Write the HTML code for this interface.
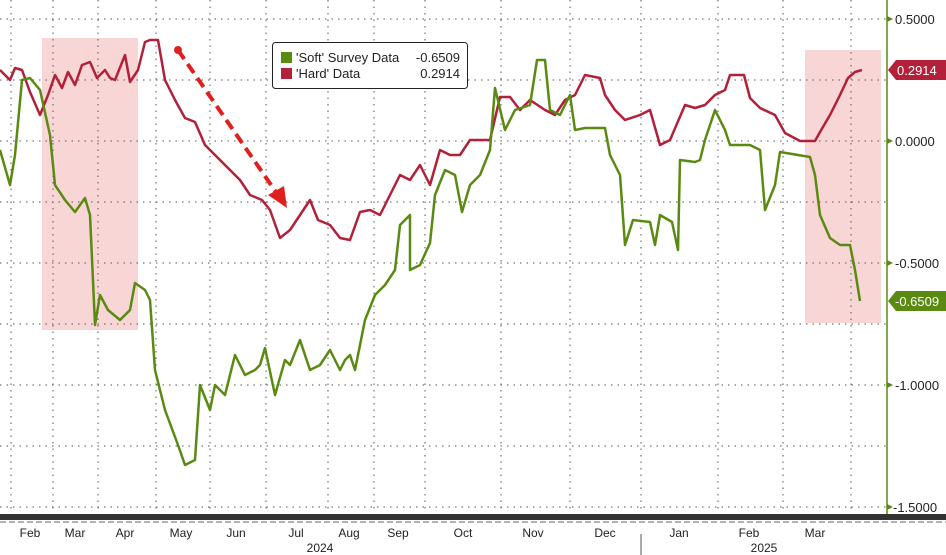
<!DOCTYPE html>
<html><head><meta charset="utf-8"><style>
html,body{margin:0;padding:0;background:#fff;}
svg{display:block;font-family:"Liberation Sans",sans-serif;}
</style></head><body>
<svg width="946" height="555" viewBox="0 0 946 555" xmlns="http://www.w3.org/2000/svg">
<rect width="946" height="555" fill="#fff"/>
<rect x="42" y="38" width="96" height="292" fill="#f8cfcf" opacity="0.85"/>
<rect x="805" y="50" width="76" height="273" fill="#f8cfcf" opacity="0.85"/>
<g stroke="#555" stroke-width="1" stroke-dasharray="1.5,5">
<line x1="0" y1="19" x2="887" y2="19"/><line x1="0" y1="80" x2="887" y2="80"/>
<line x1="0" y1="141" x2="887" y2="141"/><line x1="0" y1="202" x2="887" y2="202"/>
<line x1="0" y1="263" x2="887" y2="263"/><line x1="0" y1="324" x2="887" y2="324"/>
<line x1="0" y1="385" x2="887" y2="385"/><line x1="0" y1="446" x2="887" y2="446"/>
<line x1="0" y1="507" x2="887" y2="507"/>
<line x1="11" y1="0" x2="11" y2="512"/><line x1="53" y1="0" x2="53" y2="512"/>
<line x1="98" y1="0" x2="98" y2="512"/><line x1="156" y1="0" x2="156" y2="512"/>
<line x1="210" y1="0" x2="210" y2="512"/><line x1="266" y1="0" x2="266" y2="512"/>
<line x1="328" y1="0" x2="328" y2="512"/><line x1="374" y1="0" x2="374" y2="512"/>
<line x1="425" y1="0" x2="425" y2="512"/><line x1="501" y1="0" x2="501" y2="512"/>
<line x1="570" y1="0" x2="570" y2="512"/><line x1="641" y1="0" x2="641" y2="512"/>
<line x1="718" y1="0" x2="718" y2="512"/><line x1="783" y1="0" x2="783" y2="512"/>
<line x1="851" y1="0" x2="851" y2="512"/>
</g>
<polyline fill="none" stroke="#b2203a" stroke-width="2.5" stroke-linejoin="round" points="0,70 10,80 15,68 22,70 30,92 40,115 48,95 55,75 62,88 68,72 75,85 82,65 90,62 97,78 105,70 110,78 115,80 125,55 130,82 138,70 145,42 150,40 158,40 165,80 175,100 185,118 195,122 205,145 215,155 230,170 240,180 250,195 262,200 270,210 280,238 290,230 300,215 310,200 318,220 330,225 340,238 350,240 360,212 370,210 380,215 390,195 400,175 410,180 420,165 430,185 440,150 450,155 460,155 470,140 480,140 490,140 500,97 510,97 520,110 530,100 545,110 555,115 565,100 575,95 585,75 600,78 605,95 615,110 625,120 640,115 650,110 660,145 670,140 685,105 695,108 705,105 715,95 725,90 730,75 744,75 750,98 760,108 775,115 785,133 800,141 815,141 820,132 830,115 840,95 848,78 855,72 862,70"/>
<polyline fill="none" stroke="#5a8a12" stroke-width="2.5" stroke-linejoin="round" points="0,150 10,185 15,155 22,80 30,78 40,90 50,135 55,185 65,200 75,212 85,198 90,215 95,325 100,295 108,310 120,320 130,310 135,283 145,290 150,300 155,370 165,410 178,445 185,465 195,460 200,385 210,410 215,385 225,395 235,355 245,375 255,370 260,365 265,348 275,395 285,360 290,365 300,340 310,370 320,365 330,350 340,370 345,360 350,355 355,370 365,320 375,295 385,285 395,270 400,225 410,215 410,270 420,265 430,243 435,195 445,170 455,175 462,212 470,185 480,175 490,150 495,88 505,130 515,110 530,105 537,60 545,60 550,110 560,115 570,95 575,130 585,128 605,128 610,155 620,175 625,245 633,220 650,222 655,245 660,215 672,222 678,250 680,160 695,162 700,160 705,140 715,110 725,130 730,145 750,145 760,150 765,210 775,185 780,152 810,157 815,175 820,215 830,238 840,245 850,245 855,270 860,301"/>
<circle cx="178" cy="50" r="4" fill="#e0201e"/>
<line x1="178" y1="50" x2="278" y2="195" stroke="#e0201e" stroke-width="4" stroke-dasharray="11,6"/>
<polygon points="287,208 268,195 284,186" fill="#e0201e"/>
<rect x="272.5" y="42.5" width="195" height="46" rx="3" fill="#fff" stroke="#222"/>
<rect x="281" y="52" width="11" height="11" fill="#5a8a12"/>
<rect x="281" y="68" width="11" height="11" fill="#b2203a"/>
<g font-size="13" fill="#222">
<text x="296" y="62">'Soft' Survey Data</text><text x="460" y="62" text-anchor="end">-0.6509</text>
<text x="296" y="78">'Hard' Data</text><text x="460" y="78" text-anchor="end">0.2914</text>
</g>
<line x1="887" y1="0" x2="887" y2="515" stroke="#5a8a12" stroke-width="1.5"/>
<g fill="#5a8a12"><polygon points="887,16 893,19 887,22"/><polygon points="887,138 893,141 887,144"/><polygon points="887,260 893,263 887,266"/><polygon points="887,382 893,385 887,388"/><polygon points="887,504 893,507 887,510"/></g>
<g font-size="13" fill="#222">
<text x="895" y="24">0.5000</text><text x="895" y="146">0.0000</text><text x="895" y="268">-0.5000</text><text x="895" y="390">-1.0000</text><text x="893" y="512">-1.5000</text>
</g>
<polygon points="888,70 896,60 946,60 946,80 896,80" fill="#b2203a"/>
<text x="897" y="75" font-size="13" fill="#fff">0.2914</text>
<polygon points="888,301 896,291 946,291 946,311 896,311" fill="#5a8a12"/>
<text x="895" y="306" font-size="13" fill="#fff">-0.6509</text>
<rect x="0" y="514" width="946" height="6" fill="#333"/>
<line x1="0" y1="522" x2="946" y2="522" stroke="#666" stroke-dasharray="6,3"/>
<line x1="641" y1="534" x2="641" y2="555" stroke="#555"/>
<g font-size="12" fill="#222" text-anchor="middle">
<text x="30" y="537">Feb</text><text x="75" y="537">Mar</text><text x="125" y="537">Apr</text><text x="181" y="537">May</text><text x="236" y="537">Jun</text><text x="296" y="537">Jul</text><text x="349" y="537">Aug</text><text x="398" y="537">Sep</text><text x="463" y="537">Oct</text><text x="533" y="537">Nov</text><text x="605" y="537">Dec</text><text x="679" y="537">Jan</text><text x="749" y="537">Feb</text><text x="815" y="537">Mar</text>
<text x="320" y="552">2024</text><text x="764" y="552">2025</text>
</g>
</svg>
</body></html>
